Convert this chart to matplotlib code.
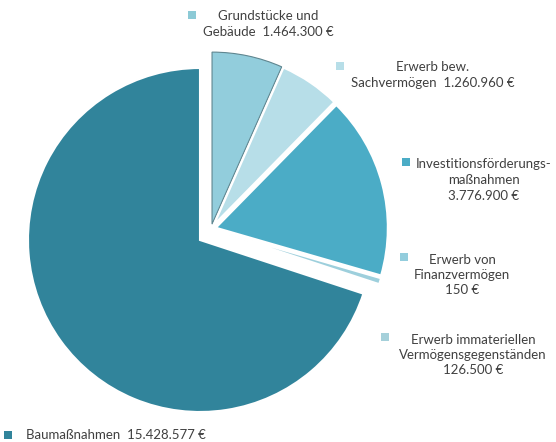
import matplotlib
import matplotlib.pyplot as plt

matplotlib.use("Agg")

labels = [
    "Grundstücke und\nGebäude  1.464.300 €",
    "Erwerb bew.\nSachvermögen  1.260.960 €",
    "Investitionsförderungs-\nmaßnahmen\n3.776.900 €",
    "Erwerb von\nFinanzvermögen\n150 €",
    "Erwerb immateriellen\nVermögensgegenständen\n126.500 €",
    "Baumaßnahmen  15.428.577 €",
]
values = [1464300, 1260960, 3776900, 150, 126500, 15428577]
colors = ["#92CDDC", "#B7DEE8", "#4BACC6", "#4BACC6", "#9DCFDC", "#31849B"]
marker_colors = ["#8CCAD6", "#B7DEE8", "#4BACC6", "#93CDDD", "#A5D0DA", "#31849B"]

# the small slices are pulled out as a group, plus a little each
explode = [5, 5, 5, 5, 5, 0]
group_shift = (11, 11)

# label placement in pixels (marker x, marker y, text x, text y, align)
label_pos = [
    (192, 15, 268, 24, "center"),
    (340, 66, 433, 75, "center"),
    (406, 162, 484, 180, "center"),
    (404, 257, 462, 275, "center"),
    (385, 337, 473, 355, "center"),
    (8, 435, 26, 435, "left"),
]

W, H = 556, 442
cx, cy, r = 200, H - 240, 172
fig = plt.figure(figsize=(W / 100, H / 100), dpi=100)
ax = fig.add_axes([0, 0, 1, 1])

wp = dict(edgecolor="white", linewidth=1.5)
# big slice
big, _ = ax.pie(values, colors=colors, startangle=90, counterclock=False,
                radius=r, center=(cx, cy), wedgeprops=wp)
for w in big[:-1]:
    w.set_visible(False)
# exploded group
small, _ = ax.pie(values, colors=colors, explode=explode, startangle=90,
                  counterclock=False, radius=r,
                  center=(cx + group_shift[0], cy + group_shift[1]),
                  wedgeprops=wp)
small[-1].set_visible(False)
small[0].set_edgecolor("#5F8690")
small[0].set_linewidth(0.8)

ax.set_xlim(0, W)
ax.set_ylim(0, H)
ax.set_aspect("equal")
ax.axis("off")

for lab, col, (mx, my, tx, ty, ha) in zip(labels, marker_colors, label_pos):
    ax.scatter(mx, H - my, s=38, marker="s", color=col, edgecolors="none")
    ax.text(tx, H - ty, lab, ha=ha, va="center", fontsize=9.5,
            family="Lato", color="#404040", linespacing=1.35)

fig.savefig("out.png", dpi=100)
